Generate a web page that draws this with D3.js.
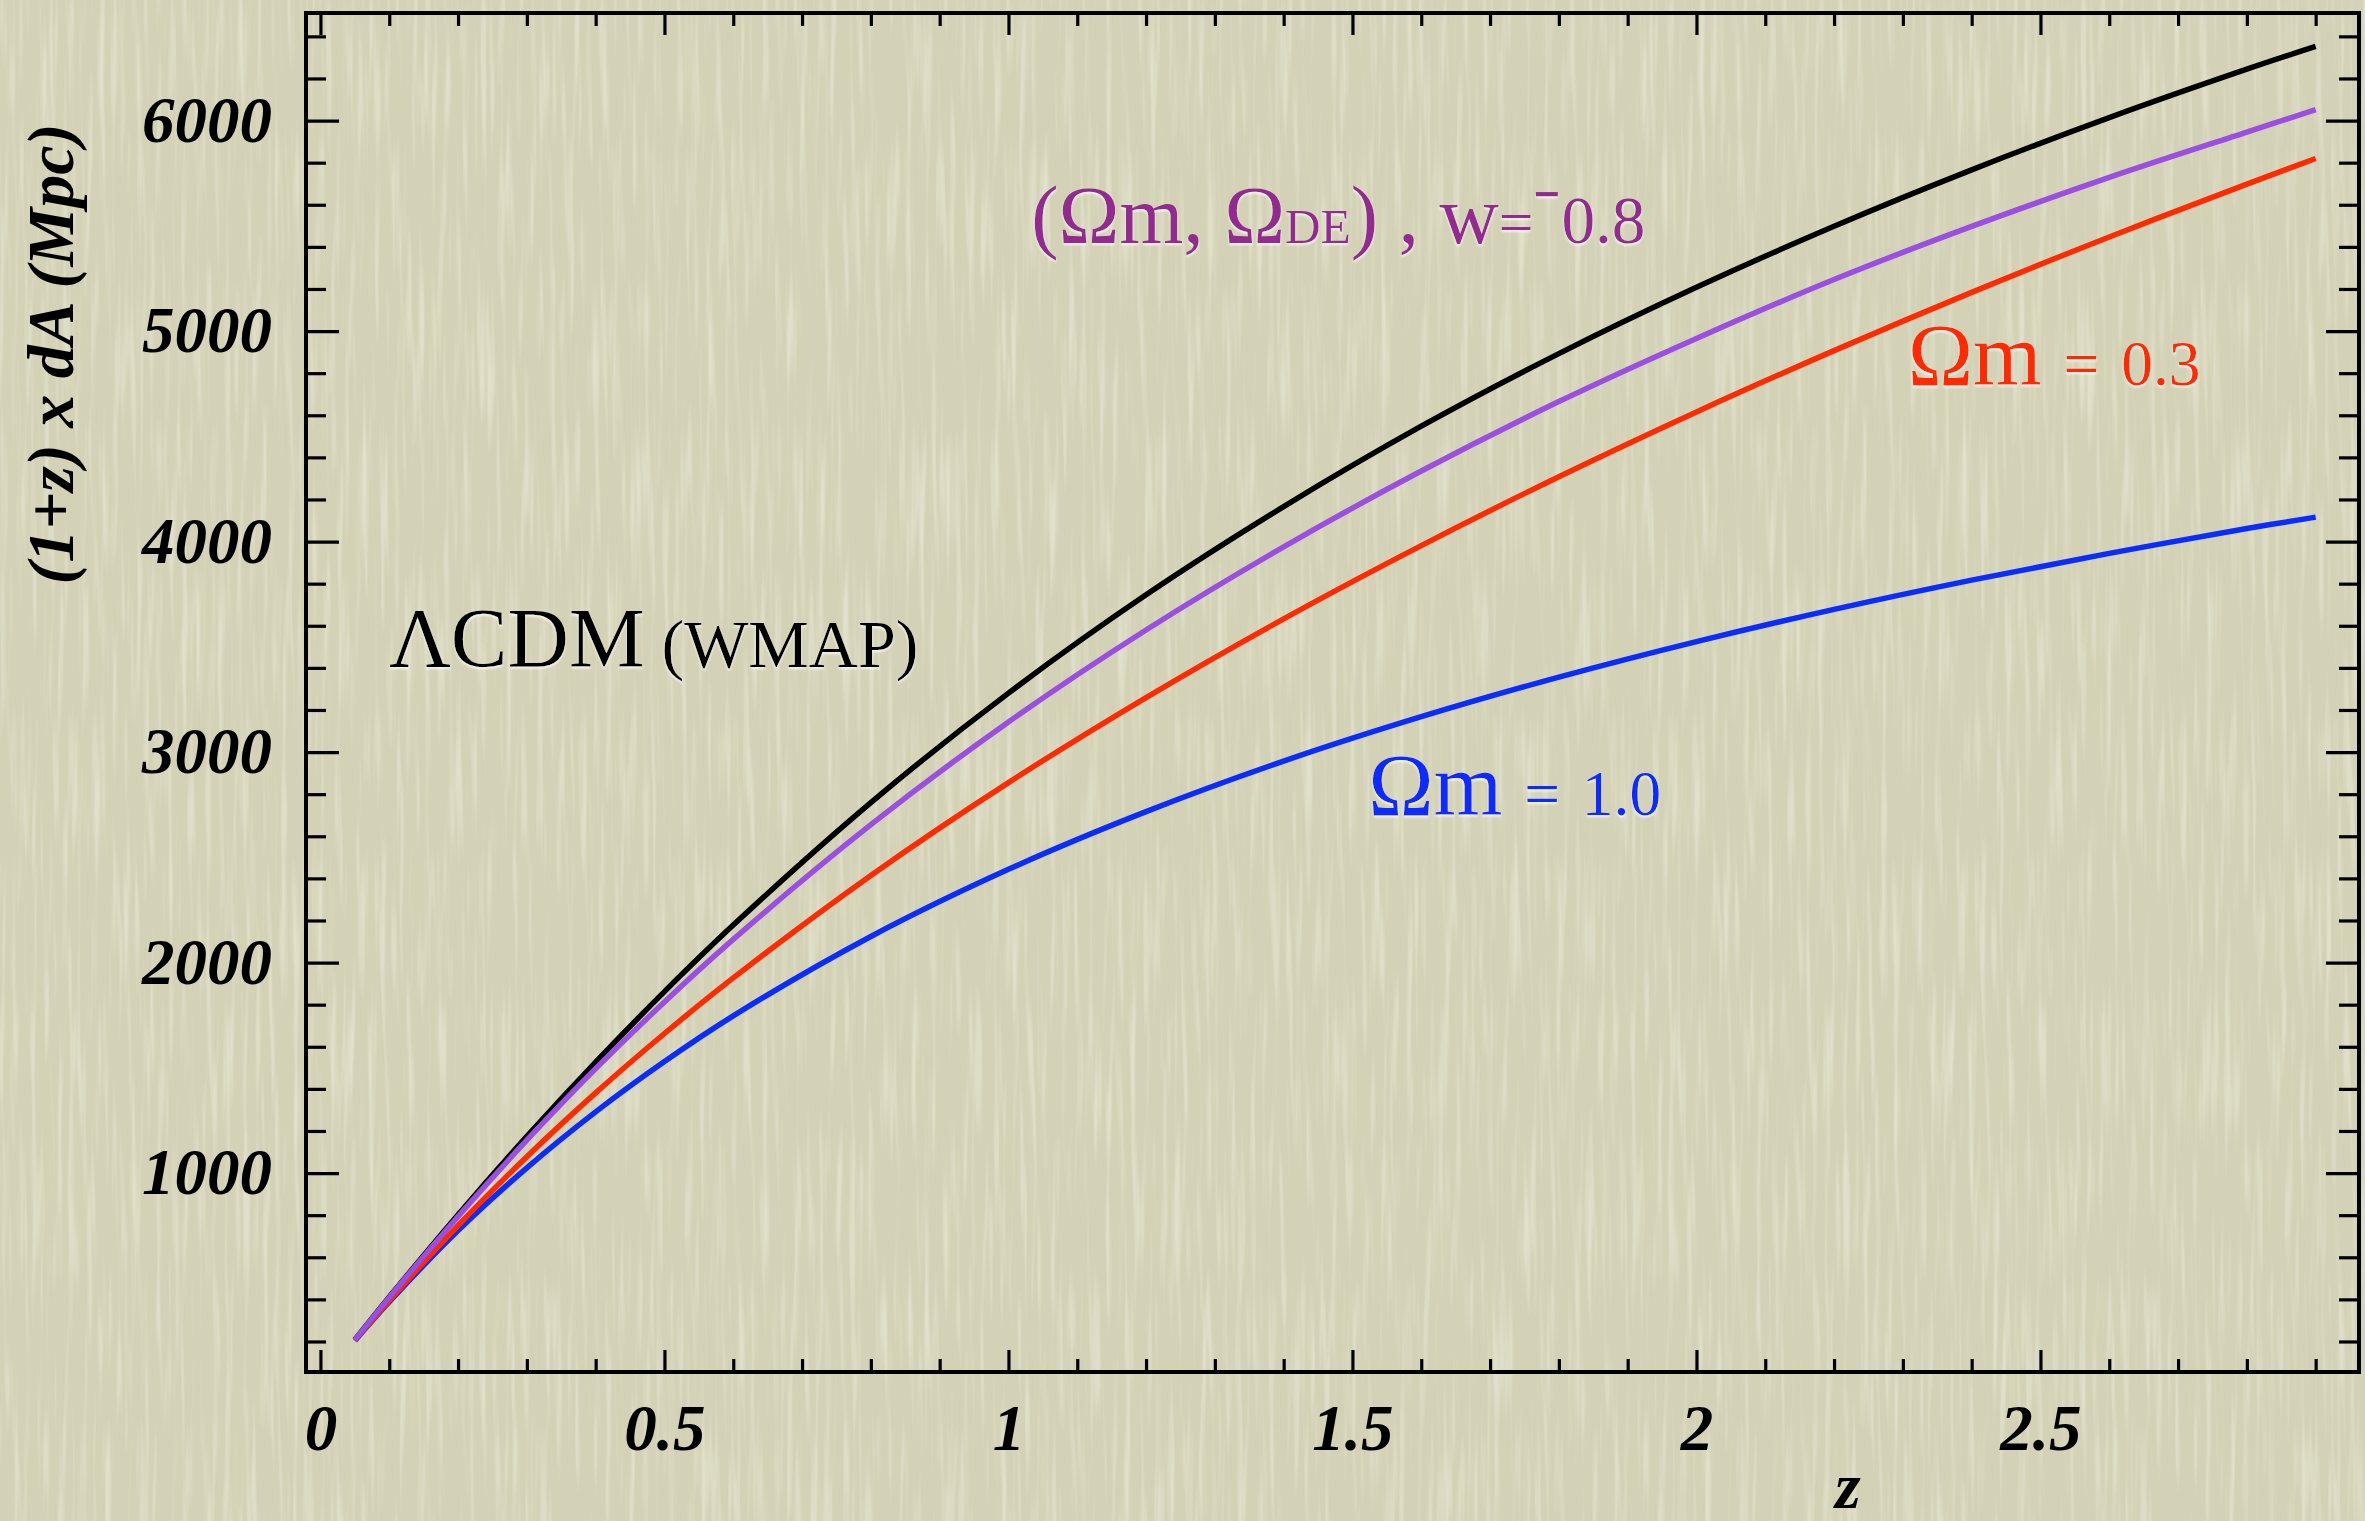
<!DOCTYPE html>
<html lang="en">
<head>
<meta charset="UTF-8">
<title>(1+z) x dA versus z</title>
<script src="https://d3js.org/d3.v7.min.js"></script>
<style>
    body { margin: 0; background: #d3d2b7; }
    svg { display: block; }
</style>
</head>
<body>
<svg id="main" width="2365" height="1521"></svg>
<script>
    // redshift samples and (1+z) x dA in Mpc for each model
    const zValues  = [0.05, 0.1, 0.2, 0.3, 0.4, 0.5, 0.6, 0.8, 1.0, 1.2, 1.4, 1.6, 1.8, 2.0, 2.2, 2.4, 2.6, 2.8, 2.9];
    const lcdmWmap = [208, 411, 802, 1174, 1527, 1862, 2178, 2760, 3280, 3747, 4166, 4548, 4893, 5208, 5498, 5766, 6014, 6244, 6352];
    const wMinus08 = [207, 409, 794, 1156, 1496, 1813, 2110, 2655, 3143, 3580, 3975, 4335, 4665, 4965, 5245, 5497, 5730, 5945, 6052];
    const omega03  = [205, 394, 751, 1078, 1381, 1663, 1927, 2414, 2855, 3259, 3633, 3981, 4308, 4616, 4907, 5184, 5447, 5698, 5820];
    const omega10  = [204, 388, 727, 1025, 1291, 1530, 1747, 2124, 2443, 2717, 2957, 3168, 3356, 3525, 3678, 3817, 3944, 4062, 4116];

    // tick labels
    const xMajor = [0, 0.5, 1, 1.5, 2, 2.5];
    const xMinor = d3.range(1, 30).filter(i => i % 5 !== 0).map(i => i / 10);
    const yMajor = [1000, 2000, 3000, 4000, 5000, 6000];
    const yMinor = d3.range(200, 6600, 200).filter(v => v % 1000 !== 0);

    let svg = d3.select('svg#main');
    const W = 2365, H = 1521;
    const plot = {left: 306, right: 2359, top: 13, bottom: 1372};
    const tickFont = '"Liberation Serif", "Times New Roman", serif';

    // paper background with fine vertical streaks
    let defs = svg.append('defs');
    let paper = defs.append('filter').attr('id', 'paper')
        .attr('x', 0).attr('y', 0).attr('width', '100%').attr('height', '100%');
    paper.append('feTurbulence').attr('type', 'fractalNoise')
        .attr('baseFrequency', '0.16 0.007').attr('numOctaves', 2).attr('seed', 7);
    paper.append('feColorMatrix').attr('type', 'matrix')
        .attr('values', '0 0 0 0 1  0 0 0 0 1  0 0 0 0 0.95  3 0 0 0 -1.45');
    let emboss = defs.append('filter').attr('id', 'emboss');
    emboss.append('feDropShadow').attr('dx', 0).attr('dy', 2).attr('stdDeviation', 1.2)
        .attr('flood-color', '#ffffff').attr('flood-opacity', 0.75);

    svg.append('rect').attr('width', W).attr('height', H).attr('fill', '#d3d2b6');
    svg.append('rect').attr('width', W).attr('height', H).attr('filter', 'url(#paper)').attr('opacity', 0.32);

    // scales
    let xScale = d3.scaleLinear().domain([-0.021, 2.963]).range([plot.left, plot.right]);
    let yScale = d3.scaleLinear().domain([55, 6511]).range([plot.bottom, plot.top]);

    // axes: major + minor ticks on all four sides, pointing inwards
    function addAxis(axis, tx, ty, labelled) {
        let g = svg.append('g').attr('transform', 'translate(' + tx + ',' + ty + ')').call(axis);
        g.select('.domain').remove();
        g.selectAll('line').attr('stroke', '#000').attr('stroke-width', 3.2);
        g.selectAll('text')
            .attr('fill', '#000')
            .style('font-family', tickFont)
            .style('font-weight', 'bold')
            .style('font-style', 'italic')
            .style('font-size', '65px');
        if (!labelled) g.selectAll('text').remove();
        return g;
    }
    let fmt = d => String(d);
    addAxis(d3.axisBottom(xScale).tickValues(xMajor).tickSize(-22).tickPadding(32).tickFormat(fmt), 0, plot.bottom, true);
    addAxis(d3.axisBottom(xScale).tickValues(xMinor).tickSize(-13).tickFormat(''), 0, plot.bottom, false);
    addAxis(d3.axisTop(xScale).tickValues(xMajor).tickSize(-22).tickFormat(''), 0, plot.top, false);
    addAxis(d3.axisTop(xScale).tickValues(xMinor).tickSize(-13).tickFormat(''), 0, plot.top, false);
    addAxis(d3.axisLeft(yScale).tickValues(yMajor).tickSize(-33).tickPadding(34).tickFormat(fmt), plot.left, 0, true);
    addAxis(d3.axisLeft(yScale).tickValues(yMinor).tickSize(-20).tickFormat(''), plot.left, 0, false);
    addAxis(d3.axisRight(yScale).tickValues(yMajor).tickSize(-33).tickFormat(''), plot.right, 0, false);
    addAxis(d3.axisRight(yScale).tickValues(yMinor).tickSize(-20).tickFormat(''), plot.right, 0, false);

    // frame
    svg.append('rect')
        .attr('x', plot.left).attr('y', plot.top)
        .attr('width', plot.right - plot.left).attr('height', plot.bottom - plot.top)
        .attr('fill', 'none').attr('stroke', '#000').attr('stroke-width', 4);

    // axis titles
    svg.append('text')
        .attr('x', xScale(2.22)).attr('y', 1508)
        .attr('text-anchor', 'middle')
        .style('font-family', tickFont).style('font-weight', 'bold').style('font-style', 'italic')
        .style('font-size', '66px')
        .text('z');
    svg.append('text')
        .attr('transform', 'translate(73,354) rotate(-90)')
        .attr('text-anchor', 'middle')
        .style('font-family', tickFont).style('font-weight', 'bold').style('font-style', 'italic')
        .style('font-size', '66px')
        .text('(1+z) x dA (Mpc)');

    // curves
    let line = d3.line()
        .x(d => xScale(d[0]))
        .y(d => yScale(d[1]))
        .curve(d3.curveCatmullRom.alpha(0.5));
    const series = [
        {values: omega10,  color: '#0b2cff'},
        {values: omega03,  color: '#ff2a00'},
        {values: lcdmWmap, color: '#000000'},
        {values: wMinus08, color: '#9b4ee2'}
    ];
    svg.append('g').selectAll('path')
        .data(series)
        .enter()
        .append('path')
        .attr('d', s => line(zValues.map((z, i) => [z, s.values[i]])))
        .attr('fill', 'none')
        .attr('stroke', s => s.color)
        .attr('stroke-width', 5.5);

    // annotations
    const serif = '"Liberation Serif", "Times New Roman", serif';
    function label(z, v, color, size, parts) {
        let t = svg.append('text')
            .attr('x', xScale(z)).attr('y', yScale(v))
            .attr('fill', color)
            .attr('filter', 'url(#emboss)')
            .style('font-family', serif)
            .style('font-size', size + 'px');
        parts.forEach(p => {
            t.append('tspan').style('font-size', (size * p[1]) + 'px').text(p[0]);
        });
        return t;
    }
    label(0.1, 3404, '#000000', 85, [['ΛCDM', 1], [' (WMAP)', 0.8]]);
    label(1.033, 5418, '#922a8f', 82, [['(Ωm, Ω', 1], ['DE', 0.6], [') , w', 1], ['=', 0.75], ['⁻', 1], ['0.8', 0.82]]);
    label(2.307, 4743, '#ff2a00', 88, [['Ωm ', 1], ['=', 0.72], [' ', 1], ['0.3', 0.72]]);
    label(1.523, 2701, '#0b2cff', 88, [['Ωm ', 1], ['=', 0.72], [' ', 1], ['1.0', 0.72]]);
</script>
</body>
</html>
